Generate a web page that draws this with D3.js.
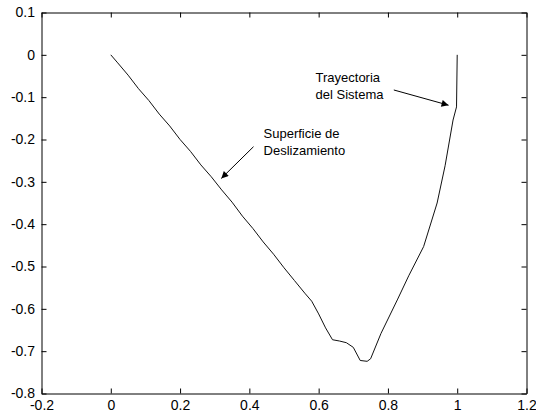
<!DOCTYPE html>
<html>
<head>
<meta charset="utf-8">
<script src="https://cdn.jsdelivr.net/npm/d3@7"></script>
<style>
  html, body { margin: 0; padding: 0; background: #fff; }
  svg { display: block; }
</style>
</head>
<body>
<svg id="chart" width="536" height="417"></svg>
<script>
// Phase-plane trajectory: error (x) vs. its derivative (y)
const trajX = [0, 0.02, 0.05, 0.08, 0.11, 0.14, 0.17, 0.20, 0.23, 0.26, 0.29, 0.32, 0.35, 0.38, 0.41, 0.44, 0.47, 0.50, 0.53, 0.56, 0.58, 0.60, 0.62, 0.64, 0.66, 0.68, 0.70, 0.72, 0.74, 0.75, 0.78, 0.827, 0.86, 0.903, 0.942, 0.965, 0.988, 0.998, 1.0];
const trajY = [0, -0.019, -0.048, -0.080, -0.108, -0.140, -0.168, -0.200, -0.228, -0.260, -0.288, -0.319, -0.348, -0.381, -0.410, -0.442, -0.471, -0.503, -0.533, -0.563, -0.582, -0.612, -0.645, -0.673, -0.676, -0.680, -0.691, -0.722, -0.724, -0.718, -0.658, -0.579, -0.522, -0.453, -0.350, -0.262, -0.154, -0.123, 0.0];

const xTicks = [-0.2, 0, 0.2, 0.4, 0.6, 0.8, 1, 1.2];
const yTicks = [0.1, 0, -0.1, -0.2, -0.3, -0.4, -0.5, -0.6, -0.7, -0.8];
const xTickLabels = ["-0.2", "0", "0.2", "0.4", "0.6", "0.8", "1", "1.2"];
const yTickLabels = ["0.1", "0", "-0.1", "-0.2", "-0.3", "-0.4", "-0.5", "-0.6", "-0.7", "-0.8"];

const labelSurface = ["Superficie de", "Deslizamiento"];
const labelTrajectory = ["Trayectoria", "del Sistema"];

const svg = d3.select("#chart");
const plotL = 41.5, plotR = 526.5, plotT = 12.5, plotB = 393.5;

const x = d3.scaleLinear().domain([-0.2, 1.2]).range([plotL, plotR]);
const y = d3.scaleLinear().domain([-0.8, 0.1]).range([plotB, plotT]);

const tickLen = 5;
const tickFont = "'Liberation Sans Narrow', 'Arial Narrow', 'Liberation Sans', Arial, sans-serif";
const textFont = "'Liberation Sans', Arial, sans-serif";
const fmtX = (d, i) => xTickLabels[i];
const fmtY = (d, i) => yTickLabels[i];

const styleLabels = g => g.selectAll("text")
  .style("font-family", tickFont).style("font-size", "14px").style("fill", "#000");

// Axes with inward ticks on all four sides
svg.append("g").attr("transform", `translate(0,${plotB})`)
  .call(d3.axisBottom(x).tickValues(xTicks).tickFormat(fmtX).tickSizeInner(-tickLen).tickSizeOuter(0).tickPadding(6.5))
  .call(styleLabels);
svg.append("g").attr("transform", `translate(0,${plotT})`)
  .call(d3.axisTop(x).tickValues(xTicks).tickFormat("").tickSizeInner(-tickLen).tickSizeOuter(0));
svg.append("g").attr("transform", `translate(${plotL},0)`)
  .call(d3.axisLeft(y).tickValues(yTicks).tickFormat(fmtY).tickSizeInner(-tickLen).tickSizeOuter(0).tickPadding(6.5))
  .call(styleLabels);
svg.append("g").attr("transform", `translate(${plotR},0)`)
  .call(d3.axisRight(y).tickValues(yTicks).tickFormat("").tickSizeInner(-tickLen).tickSizeOuter(0));

svg.selectAll(".domain").attr("stroke", "#000");
svg.selectAll(".tick line").attr("stroke", "#000");

// Trajectory curve
const pts = trajX.map((v, i) => [v, trajY[i]]);
svg.append("path")
  .datum(pts)
  .attr("fill", "none")
  .attr("stroke", "#111")
  .attr("stroke-width", 1)
  .attr("d", d3.line().x(d => x(d[0])).y(d => y(d[1])));

// Arrowhead marker
svg.append("defs").append("marker")
  .attr("id", "head")
  .attr("viewBox", "0 0 10 10")
  .attr("refX", 10).attr("refY", 5)
  .attr("markerWidth", 11).attr("markerHeight", 7)
  .attr("markerUnits", "userSpaceOnUse")
  .attr("orient", "auto")
  .append("path").attr("d", "M0,0 L10,5 L0,10 Z").attr("fill", "#000");

function annotate(lines, tx, ty, from, to) {
  const t = svg.append("text")
    .style("font-family", textFont).style("font-size", "13px").style("fill", "#000");
  lines.forEach((s, i) => {
    t.append("tspan").attr("x", x(tx)).attr("y", y(ty) + i * 16.8).text(s);
  });
  svg.append("line")
    .attr("x1", x(from[0])).attr("y1", y(from[1]))
    .attr("x2", x(to[0])).attr("y2", y(to[1]))
    .attr("stroke", "#000").attr("stroke-width", 1)
    .attr("marker-end", "url(#head)");
}

annotate(labelSurface, 0.441, -0.196, [0.412, -0.217], [0.319, -0.292]);
annotate(labelTrajectory, 0.591, -0.064, [0.817, -0.083], [0.975, -0.119]);
</script>
</body>
</html>
